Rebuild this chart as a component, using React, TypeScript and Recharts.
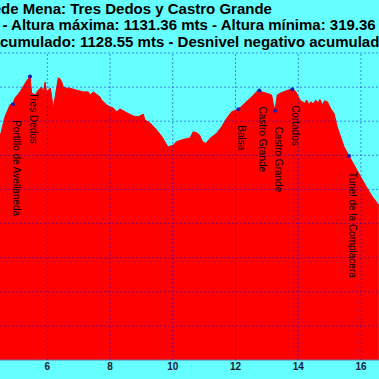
import { ComposedChart, Area, Scatter, XAxis, YAxis, ReferenceLine } from "recharts";

// profile: distance (km) and altitude (m)
const kms = [
  4.49, 4.65, 4.81, 4.9, 4.97, 5.13, 5.34, 5.45, 5.5, 5.61, 5.71, 5.82, 5.87, 5.93, 5.98, 6.03,
  6.09, 6.12, 6.19, 6.25, 6.35, 6.4, 6.46, 6.51, 6.62, 6.72, 6.94, 7.15, 7.31, 7.36, 7.47, 7.68,
  7.73, 7.89, 8.0, 8.1, 8.21, 8.32, 8.53, 8.74, 8.9, 9.06, 9.11, 9.27, 9.49, 9.65, 9.81, 9.86,
  10.02, 10.12, 10.34, 10.55, 10.65, 10.76, 10.85, 10.95, 11.06, 11.19, 11.4, 11.56, 11.72,
  11.88, 12.09, 12.3, 12.52, 12.68, 12.73, 12.76, 12.8, 12.99, 13.15, 13.2, 13.26, 13.33, 13.42,
  13.55, 13.7, 13.81, 13.92, 13.97, 14.06, 14.13, 14.21, 14.27, 14.34, 14.4, 14.48, 14.56, 14.63,
  14.69, 14.77, 14.84, 14.93, 15.03, 15.14, 15.24, 15.35, 15.46, 15.62, 15.78, 15.99, 16.2,
  16.36, 16.57,
];
const alts = [
  954, 1013, 1048, 1050, 1068, 1086, 1118, 1131, 1083, 1077, 1091, 1100, 1083, 1115, 1083, 1091,
  1097, 1083, 1039, 1071, 1127, 1125, 1115, 1100, 1097, 1097, 1091, 1086, 1086, 1077, 1086, 1071,
  1062, 1048, 1042, 1039, 1028, 1036, 1025, 1015, 1013, 1021, 1004, 995, 974, 955, 930, 925,
  930, 940, 947, 951, 969, 966, 960, 940, 935, 950, 965, 984, 1009,
  1028, 1035, 1053, 1072, 1087, 1092, 1090, 1087, 1082, 1077, 1053, 1031, 1077, 1082,
  1087, 1092, 1094, 1087, 1077, 1062, 1057, 1053, 1062, 1048, 1057, 1051, 1062, 1053,
  1064, 1048, 1060, 1057, 1038, 1023, 984, 955, 925, 898, 872, 837, 803,
  779, 754,
];

// waypoints
const wpNames = [
  "Portillo de Avellaneda",
  "Tres Dedos",
  "Balsa",
  "Castro Grande",
  "Castro Grande",
  "Cortados",
  "Tunel de la Complacera",
];
const wpKms = [4.9, 5.45, 12.09, 12.76, 13.26, 13.81, 15.62];
const wpAlts = [1050, 1131, 1035, 1090, 1031, 1094, 898];

const xTicks = [6, 8, 10, 12, 14, 16];
const yGrid = [400, 500, 600, 700, 800, 900, 1000, 1100, 1200];

const profile = kms.map((km, i) => ({ km, alt: alts[i] }));
const waypoints = wpNames.map((name, i) => ({ km: wpKms[i], alt: wpAlts[i], name }));

const FONT = "'Liberation Sans', Arial, sans-serif";
const X_DOMAIN = [4.492, 16.574];
const Y_DOMAIN = [300, 1200];
const MARGIN = { top: 53, right: 0, left: 0, bottom: 0 };
const GRID = { stroke: "#1010e0", strokeOpacity: 0.5, strokeWidth: 1, strokeDasharray: "2 2" };

const WaypointMark = (props: any) => {
  const { cx, cy, payload } = props;
  const ty = cy + 16;
  return (
    <g>
      <circle cx={cx} cy={cy} r={2} fill="#1b1bb0" />
      <text
        x={cx}
        y={ty}
        transform={`rotate(90 ${cx} ${ty})`}
        fontSize={10}
        fontFamily={FONT}
        fill="#000"
      >
        {payload.name}
      </text>
    </g>
  );
};

const Title = () => (
  <svg width={379} height={60} style={{ position: "absolute", left: 0, top: 0, pointerEvents: "none" }}>
    <g fontFamily={FONT} fontWeight="bold" fontSize={15} fill="#000">
      <text x={1} y={13.5} textAnchor="end">Valle</text>
      <text x={1} y={13.5}>de Mena: Tres Dedos y Castro Grande</text>
      <text x={-2} y={30} textAnchor="end">Distancia: 17.94 kms</text>
      <text x={2.5} y={30}>- Altura máxima: 1131.36 mts - Altura mínima: 319.36 mts</text>
      <text x={0} y={46.5} textAnchor="end">Desnivel positivo a</text>
      <text x={0} y={46.5}>cumulado: 1128.55 mts - Desnivel negativo acumulado: 1128.55 mts</text>
    </g>
  </svg>
);

// grid, waypoints and labels: a second transparent chart on top of the red area
const Overlay = () => (
  <div style={{ position: "absolute", left: 0, top: 0, pointerEvents: "none" }}>
    <ComposedChart width={379} height={379} data={profile} margin={MARGIN}>
      <XAxis
        dataKey="km"
        type="number"
        domain={X_DOMAIN}
        ticks={xTicks}
        allowDataOverflow
        height={19}
        tick={false}
        tickLine={false}
        axisLine={false}
      />
      <YAxis type="number" domain={Y_DOMAIN} hide allowDataOverflow />
      {xTicks.map((x) => (
        <ReferenceLine key={"x" + x} x={x} {...GRID} />
      ))}
      {yGrid.map((y) => (
        <ReferenceLine key={"y" + y} y={y} {...GRID} />
      ))}
      <Scatter data={waypoints} dataKey="alt" shape={WaypointMark} isAnimationActive={false} />
    </ComposedChart>
  </div>
);

export default function App() {
  return (
    <div style={{ position: "fixed", left: 0, top: 0, width: 379, height: 379, background: "#66ffff", overflow: "hidden" }}>
      <ComposedChart width={379} height={379} data={profile} margin={MARGIN}>
        <XAxis
          dataKey="km"
          type="number"
          domain={X_DOMAIN}
          ticks={xTicks}
          allowDataOverflow
          height={19}
          tickLine={false}
          tickSize={2}
          tickMargin={1}
          axisLine={{ stroke: "#7070a0" }}
          tick={{ fontSize: 10, fontWeight: "bold", fill: "#1a1a3a", fontFamily: FONT }}
        />
        <YAxis type="number" domain={Y_DOMAIN} hide allowDataOverflow />
        <Area
          type="linear"
          dataKey="alt"
          fill="#ff0000"
          fillOpacity={1}
          stroke="#ff0000"
          isAnimationActive={false}
        />
      </ComposedChart>
      <Overlay />
      <Title />
    </div>
  );
}
